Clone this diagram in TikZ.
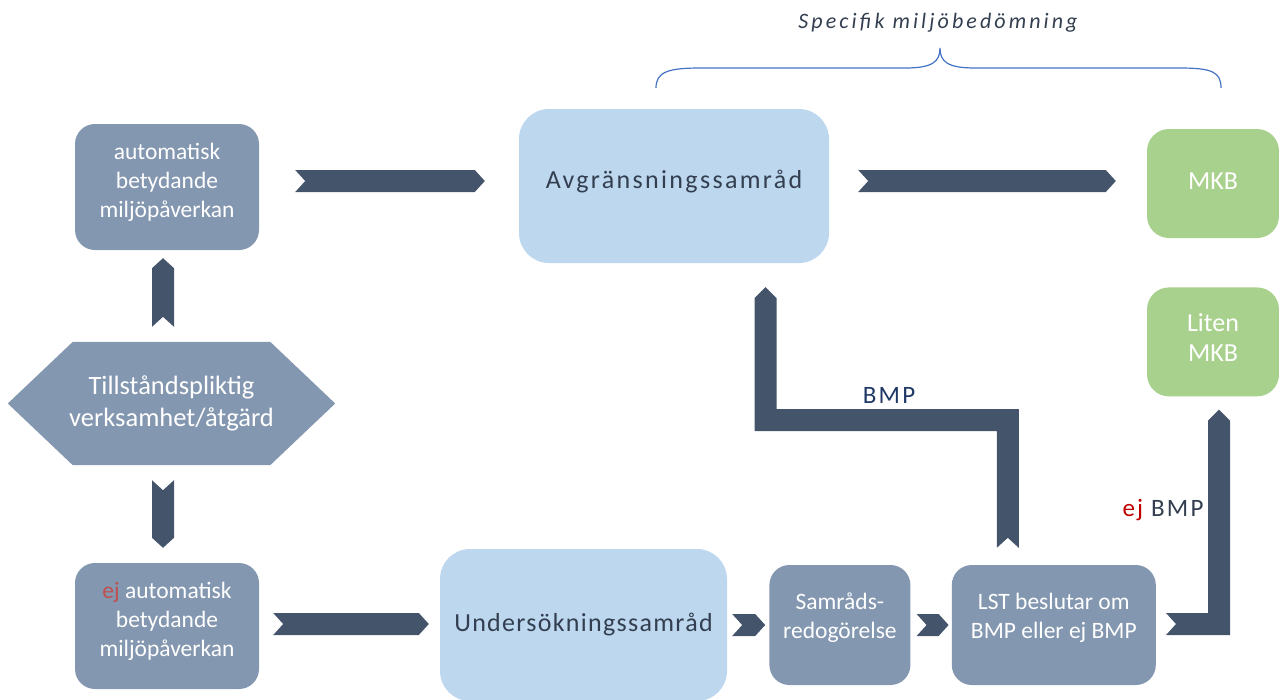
\documentclass[tikz,border=0pt]{standalone}
\usepackage{fontspec}
\setmainfont{Carlito}
\newfontfamily\widefont[LetterSpace=9]{Carlito}
\newfontfamily\undfont[LetterSpace=5]{Carlito}
\newfontfamily\titlefont[LetterSpace=14]{Carlito}
\usetikzlibrary{positioning,calc,backgrounds}

\definecolor{slate}{HTML}{8497B0}
\definecolor{chevblue}{HTML}{44546A}
\definecolor{lblue}{HTML}{BDD7EE}
\definecolor{mkbgreen}{HTML}{A9D18E}
\definecolor{txtdark}{HTML}{333F50}
\definecolor{navy}{HTML}{1F3864}
\definecolor{ejred}{HTML}{C00000}
\definecolor{ejlight}{HTML}{C0504D}
\definecolor{bracecol}{HTML}{4472C4}

% chevron to the right, from the notch end #1 to the tip #2
\newcommand{\hchev}[2]{%
  \fill[chev] let \p1=#1, \p2=#2 in
    (\x1,\y1+11pt) -- (\x2-10pt,\y1+11pt) -- (\x2,\y1) -- (\x2-10pt,\y1-11pt)
    -- (\x1,\y1-11pt) -- (\x1+10pt,\y1) -- cycle;}
% chevron up or down, from the notch end #1 to the tip #2
\newcommand{\vchev}[2]{%
  \fill[chev] let \p1=#1, \p2=#2, \n1={ifthenelse(\y2>\y1,10,-10)} in
    (\x1-11pt,\y1) -- (\x1,{\y1+\n1}) -- (\x1+11pt,\y1) -- (\x1+11pt,{\y2-\n1})
    -- (\x1,\y2) -- (\x1-11pt,{\y2-\n1}) -- cycle;}

\begin{document}
\begin{tikzpicture}[x=1pt,y=-1pt,
    box/.style={rectangle,rounded corners=20pt,fill=slate,text=white,align=center,
      inner sep=0pt,font=\fontsize{23.5}{29}\selectfont},
    bigbox/.style={rectangle,rounded corners=30pt,fill=lblue,text=txtdark,inner sep=0pt},
    mkb/.style={rectangle,rounded corners=22pt,fill=mkbgreen,text=white,align=center,
      inner sep=0pt,font=\fontsize{26}{30}\selectfont,minimum width=132pt,minimum height=109pt},
    hexa/.style={rectangle,text=white,align=center,inner sep=0pt,
      minimum width=327pt,minimum height=123pt,font=\fontsize{26.5}{32}\selectfont},
    chev/.style={fill=chevblue},
    lbl/.style={inner sep=0pt,font=\fontsize{25}{30}\selectfont\widefont}]
    \useasboundingbox (0,0) rectangle (1279,699);

    \node[box,minimum width=184pt,minimum height=126pt,text depth=13pt] (a) at (167,187) {automatisk\\betydande\\miljöpåverkan};
    \node[hexa] (h) at (171.5,403.5) {Tillståndspliktig\\verksamhet/åtgärd};
    \node[box,minimum width=184pt,minimum height=126pt,text depth=13pt] (c) at (167,626) {{\color{ejlight}ej} automatisk\\betydande\\miljöpåverkan};

    \node[bigbox,minimum width=310pt,minimum height=154pt,text depth=14pt,font=\fontsize{26}{30}\selectfont\widefont] (b) at (674,186) {Avgränsningssamråd};
    \node[bigbox,minimum width=287pt,minimum height=152pt,font=\fontsize{26}{30}\selectfont\undfont] (u) at (583.5,625) {Undersökningssamråd};
    \node[box,minimum width=141pt,minimum height=120pt,text depth=18pt,right=42pt of u] (s) {Samråds-\\redogörelse};
    \node[box,minimum width=204pt,minimum height=120pt,text depth=19pt,right=41pt of s] (t) {LST beslutar om\\BMP eller ej BMP};

    \node[mkb,text depth=4pt] (m) at (1213,183.5) {MKB};
    \node[mkb,text depth=8pt,below=49pt of m] (l) {Liten\\MKB};

    \begin{scope}[on background layer]
    \fill[slate] (h.west) -- ([xshift=65pt]h.north west) -- ([xshift=-65pt]h.north east)
      -- (h.east) -- ([xshift=-65pt]h.south east) -- ([xshift=65pt]h.south west) -- cycle;
    \end{scope}

    \coordinate (a1) at ($(a.east)+(36,-6)$);
    \coordinate (b1) at ($(b.west)+(-34,-5)$);
    \coordinate (b2) at ($(b.east)+(29,-5)$);
    \coordinate (m1) at ($(m.west)+(-31,-2.5)$);
    \coordinate (h1) at ($(h.north)+(-8.5,-15)$);
    \coordinate (a2) at ($(a.south)+(-4,8)$);
    \coordinate (h2) at ($(h.south)+(-8.5,15)$);
    \coordinate (c1) at ($(c.north)+(-4,-15)$);
    \coordinate (c2) at ($(c.east)+(14,-2)$);
    \coordinate (u1) at ($(u.west)+(-11,-1)$);
    \coordinate (u2) at ($(u.east)+(5,0)$);
    \coordinate (s1) at ($(s.west)+(-4,0)$);
    \coordinate (s2) at ($(s.east)+(6,0)$);
    \coordinate (t1) at ($(t.west)+(-3,0)$);

    \hchev{(a1)}{(b1)}
    \hchev{(b2)}{(m1)}
    \vchev{(h1)}{(a2)}
    \vchev{(h2)}{(c1)}
    \hchev{(c2)}{(u1)}
    \hchev{(u2)}{(s1)}
    \hchev{(s2)}{(t1)}

    % BMP: up from LST, across, up to Avgränsningssamråd
    \coordinate (t2) at ($(t.north)+(-46,-17)$);
    \coordinate (b3) at ($(b.south)+(91.5,24)$);
    \coordinate (bar) at (0,420);
    \fill[chev] let \p1=(t2), \p2=(b3), \p3=(bar) in
      (\x1-11pt,\y1) -- (\x1,\y1+10pt) -- (\x1+11pt,\y1) -- (\x1+11pt,\y3+11pt)
      -- (\x2+11pt,\y3+11pt) -- (\x2+11pt,\y2-11pt) -- (\x2,\y2) -- (\x2-11pt,\y2-11pt)
      -- (\x2-11pt,\y3-11pt) -- (\x1-11pt,\y3-11pt) -- cycle;

    % ej BMP: right from LST, up to Liten MKB
    \coordinate (t3) at ($(t.east)+(10,-1)$);
    \coordinate (l1) at ($(l.south)+(6,13)$);
    \fill[chev] let \p1=(t3), \p2=(l1) in
      (\x1,\y1+11pt) -- (\x2-11pt,\y1+11pt) -- (\x2-11pt,\y2-11pt) -- (\x2,\y2)
      -- (\x2+11pt,\y2-11pt) -- (\x2+11pt,\y1-11pt) -- (\x1,\y1-11pt) -- (\x1+10pt,\y1) -- cycle;

    \node[lbl,text=navy] (bmp) at (889,395) {BMP};
    \node[lbl,text=txtdark] (ejbmp) at (1163,510) {{\color{ejred}ej} BMP};

    % brace over the specific assessment
    \draw[bracecol,line width=1.2pt] (656,88) .. controls (656,72) and (668,68) .. (700,68) -- (905,68)
      .. controls (932,68) and (940,62) .. (940,48) .. controls (940,62) and (948,68) .. (975,68)
      -- (1180,68) .. controls (1212,68) and (1221,72) .. (1221,88);
    \node[text=txtdark,font=\fontsize{22}{26}\selectfont\titlefont\itshape] (smb) at (938,23) {Specifik miljöbedömning};
\end{tikzpicture}
\end{document}
